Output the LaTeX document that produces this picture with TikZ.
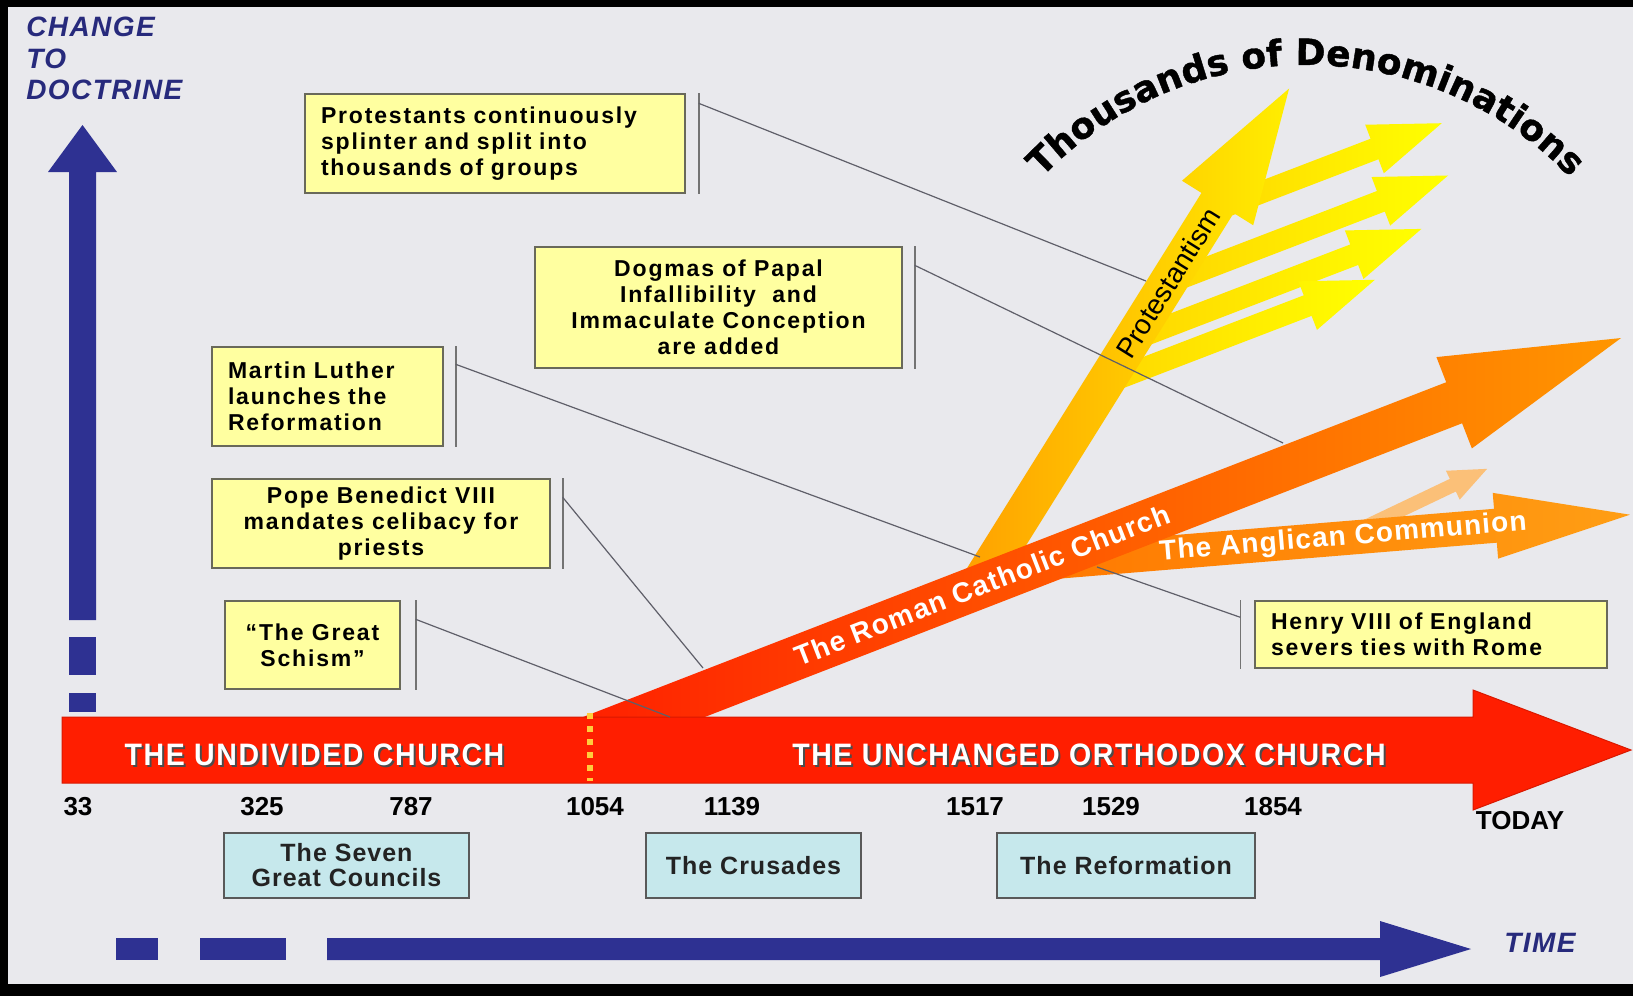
\documentclass[tikz,border=0pt]{standalone}
\usepackage{fontspec}
\setmainfont{Liberation Sans}
\newfontfamily\calloutfont[LetterSpace=8]{Liberation Sans}
\newfontfamily\bannerfont[LetterSpace=5, FakeStretch=0.92]{Liberation Sans}
\newfontfamily\bandfont[LetterSpace=4]{Liberation Sans}
\newfontfamily\periodfont[LetterSpace=4]{Liberation Sans}
\newfontfamily\axisfont[LetterSpace=5]{Liberation Sans}
\newfontfamily\denomfont[BoldFeatures={FakeBold=1.2}]{DejaVu Sans}
\usetikzlibrary{positioning,calc,decorations.text}

\definecolor{bggray}{RGB}{233,233,237}
\definecolor{barred}{RGB}{255,30,0}
\definecolor{rcmid}{RGB}{255,100,0}
\definecolor{rcorange}{RGB}{255,150,0}
\definecolor{protorange}{RGB}{255,160,0}
\definecolor{protyellow}{RGB}{255,238,0}
\definecolor{subyellow}{RGB}{255,215,0}
\definecolor{angorange}{RGB}{255,120,0}
\definecolor{anglight}{RGB}{255,158,20}
\definecolor{pastelorange}{RGB}{255,185,100}
\definecolor{calloutfill}{RGB}{255,255,160}
\definecolor{calloutdraw}{RGB}{105,105,90}
\definecolor{periodfill}{RGB}{198,232,236}
\definecolor{periodtext}{RGB}{35,35,35}
\definecolor{axisblue}{RGB}{46,49,146}
\definecolor{leadergray}{RGB}{95,95,105}
\definecolor{dotyellow}{RGB}{255,205,60}

% fat arrow along the x axis of the current scope
\newcommand{\fatarrow}[5]{%
  \path[#5] (0,-#2) -- ({#1-#3},-#2) -- ({#1-#3},-#4) -- (#1,0)
    -- ({#1-#3},#4) -- ({#1-#3},#2) -- (0,#2) -- cycle;}

\begin{document}
\begin{tikzpicture}[x=0.5pt, y=-0.5pt,
    callout/.style={draw=calloutdraw, fill=calloutfill, line width=0.7pt,
      inner xsep=8pt, inner ysep=0pt,
      font=\calloutfont\bfseries\fontsize{11.5}{13}\selectfont},
    periodbox/.style={draw=black!65, fill=periodfill, line width=0.8pt,
      minimum height=32.5pt, align=center, text=periodtext,
      font=\periodfont\bfseries\fontsize{12.5}{12.5}\selectfont},
    bracket/.style={draw=black!55, line width=0.8pt},
    leader/.style={draw=leadergray, line width=0.6pt},
    year/.style={font=\bfseries\fontsize{13}{15}\selectfont},
    banner/.style={text=white, font=\bannerfont\bfseries\fontsize{15.5}{17}\selectfont},
    bannershadow/.style={text=black!70, font=\bannerfont\bfseries\fontsize{15.5}{17}\selectfont},
    bandtext/.style={text=white, font=\bandfont\bfseries\fontsize{14}{16}\selectfont},
    axislabel/.style={text=axisblue!85!black, inner sep=0pt,
      font=\axisfont\bfseries\itshape\fontsize{14}{15.75}\selectfont}
  ]

    % Background and frame
    \useasboundingbox (0,0) rectangle (1633,996);
    \fill[black] (0,0) rectangle (1633,996);
    \fill[bggray] (8,7) rectangle (1633,984);

    % Small yellow arrows (denominations)
    \begin{scope}[shift={(1213,211)}, rotate=21]
        \fatarrow{245}{11}{72}{26}{left color=subyellow, right color=yellow}
    \end{scope}
    \begin{scope}[shift={(1168,283)}, rotate=21]
        \fatarrow{300}{11}{72}{26}{left color=subyellow, right color=yellow}
    \end{scope}
    \begin{scope}[shift={(1132,340)}, rotate=21]
        \fatarrow{310}{11}{72}{26}{left color=subyellow, right color=yellow}
    \end{scope}
    \begin{scope}[shift={(1106,383)}, rotate=21]
        \fatarrow{288}{11}{72}{26}{left color=subyellow, right color=yellow}
    \end{scope}

    % Protestantism
    \begin{scope}[shift={(977,588)}, rotate=58]
        \fatarrow{589}{19}{135}{42}{left color=protorange, right color=protyellow}
    \end{scope}

    % Faint branch and Anglican Communion
    \begin{scope}[shift={(1340,539)}, rotate=25.5]
        \fatarrow{163}{7}{38}{16}{fill=pastelorange, opacity=0.85}
    \end{scope}
    \begin{scope}[shift={(1030,564)}, rotate=4.7]
        \fatarrow{602}{17}{135}{33}{left color=angorange, right color=anglight}
    \end{scope}

    % Roman Catholic Church
    \begin{scope}[shift={(569.4,745.9)}, rotate=21.2]
        \fatarrow{1128}{22}{179}{49}{left color=barred, middle color=rcmid, right color=rcorange}
    \end{scope}

    % Main time bar
    \fill[barred, draw=barred!85!black, line width=0.5pt]
        (62,717) -- (1473,717) -- (1473,690) -- (1631,750)
        -- (1473,810) -- (1473,783) -- (62,783) -- cycle;
    \draw[dotyellow, line width=3pt, dash pattern=on 3pt off 3.5pt] (590,713) -- (590,781);

    % Texts on the bands
    \node[bannershadow] (undividedshadow) at (316.5,757) {THE UNDIVIDED CHURCH};
    \node[banner] (undivided) at (314.5,755) {THE UNDIVIDED CHURCH};
    \node[bannershadow] (orthodoxshadow) at (1091,757) {THE UNCHANGED ORTHODOX CHURCH};
    \node[banner] (orthodox) at (1089,755) {THE UNCHANGED ORTHODOX CHURCH};
    \node[bandtext, rotate=21.2] (rctext) at (982,585) {The Roman Catholic Church};
    \node[bandtext, rotate=4.7] (angtext) at (1343,538) {The Anglican Communion};
    \node[rotate=58, font=\fontsize{14}{16}\selectfont] (prottext) at (1168,283) {Protestantism};

    % Arc title
    \path[decorate, decoration={text along path, text align=center,
        text={|\denomfont\bfseries\fontsize{18}{20}\selectfont|Thousands of Denominations}}]
        (1034,186) arc[start angle=-138, end angle=-42, radius=366];

    % Years
    \node[year] (yr33) at (78,807) {33};
    \node[year] (yr325) at (262,807) {325};
    \node[year] (yr787) at (411,807) {787};
    \node[year] (yr1054) at (595,807) {1054};
    \node[year] (yr1139) at (732,807) {1139};
    \node[year] (yr1517) at (975,807) {1517};
    \node[year] (yr1529) at (1111,807) {1529};
    \node[year] (yr1854) at (1273,807) {1854};
    \node[year] (today) at (1520,821) {TODAY};

    % Periods
    \node[periodbox, minimum width=122.5pt] (councils) at (346.5,865.5) {The Seven\\Great Councils};
    \node[periodbox, minimum width=107.5pt] (crusades) at (753.5,865.5) {The Crusades};
    \node[periodbox, minimum width=129pt] (reformation) at (1126,865.5) {The Reformation};

    % Callout boxes
    \node[callout, text width=174pt, minimum height=49.5pt, align=left] (protbox) at (495,143.5)
        {Protestants continuously\\splinter and split into\\thousands of groups};
    \node[callout, minimum width=183.5pt, minimum height=60.5pt, align=center] (dogmabox) at (718.5,307.5)
        {Dogmas of Papal\\Infallibility\ \ and\\Immaculate Conception\\are added};
    \node[callout, text width=99.5pt, minimum height=49.5pt, align=left] (lutherbox) at (327.5,396.5)
        {Martin Luther\\launches the\\Reformation};
    \node[callout, minimum width=169pt, minimum height=44.5pt, align=center] (popebox) at (381,523.5)
        {Pope Benedict VIII\\mandates celibacy for\\priests};
    \node[callout, minimum width=87.5pt, minimum height=44pt, align=center] (schismbox) at (312.5,645)
        {“The Great\\Schism”};
    \node[callout, text width=160pt, minimum height=33.5pt, align=left] (henrybox) at (1431,634.5)
        {Henry VIII of England\\severs ties with Rome};

    % Points on the bands
    \coordinate (protpt) at (1146,281);
    \coordinate (dogmapt) at (1283,443);
    \coordinate (lutherpt) at (980,557);
    \coordinate (popept) at (703,668);
    \coordinate (schismpt) at (670,717);
    \coordinate (henrypt) at (1097,567);

    % Brackets and leaders
    \draw[bracket] ([xshift=6.5pt]protbox.north east) -- ([xshift=6.5pt]protbox.south east);
    \draw[leader] ([xshift=6.5pt, yshift=-5pt]protbox.north east) -- (protpt);
    \draw[bracket] ([xshift=6pt]dogmabox.north east) -- ([xshift=6pt]dogmabox.south east);
    \draw[leader] ([xshift=6pt, yshift=-9.5pt]dogmabox.north east) -- (dogmapt);
    \draw[bracket] ([xshift=6pt]lutherbox.north east) -- ([xshift=6pt]lutherbox.south east);
    \draw[leader] ([xshift=6pt, yshift=-9pt]lutherbox.north east) -- (lutherpt);
    \draw[bracket] ([xshift=6pt]popebox.north east) -- ([xshift=6pt]popebox.south east);
    \draw[leader] ([xshift=6pt, yshift=-9.5pt]popebox.north east) -- (popept);
    \draw[bracket] ([xshift=7.5pt]schismbox.north east) -- ([xshift=7.5pt]schismbox.south east);
    \draw[leader] ([xshift=7.5pt, yshift=-9.5pt]schismbox.north east) -- (schismpt);
    \draw[bracket] ([xshift=-7pt]henrybox.north west) -- ([xshift=-7pt]henrybox.south west);
    \draw[leader] ([xshift=-7pt, yshift=-8.5pt]henrybox.north west) -- (henrypt);

    % Change axis
    \fill[axisblue] (69,620) -- (69,172) -- (48,172) -- (82.5,125) -- (117,172) -- (96,172) -- (96,620) -- cycle;
    \fill[axisblue] (69,637) rectangle (96,675);
    \fill[axisblue] (69,693) rectangle (96,712);
    \node[axislabel, anchor=north west, align=left] (changelbl) at (26,17) {CHANGE\\TO\\DOCTRINE};

    % Time axis
    \fill[axisblue] (116,938) rectangle (158,960);
    \fill[axisblue] (200,938) rectangle (286,960);
    \fill[axisblue] (327,938) -- (1380,938) -- (1380,921) -- (1471,949) -- (1380,977) -- (1380,960) -- (327,960) -- cycle;
    \node[axislabel] (timelbl) at (1540,943) {TIME};
\end{tikzpicture}
\end{document}
